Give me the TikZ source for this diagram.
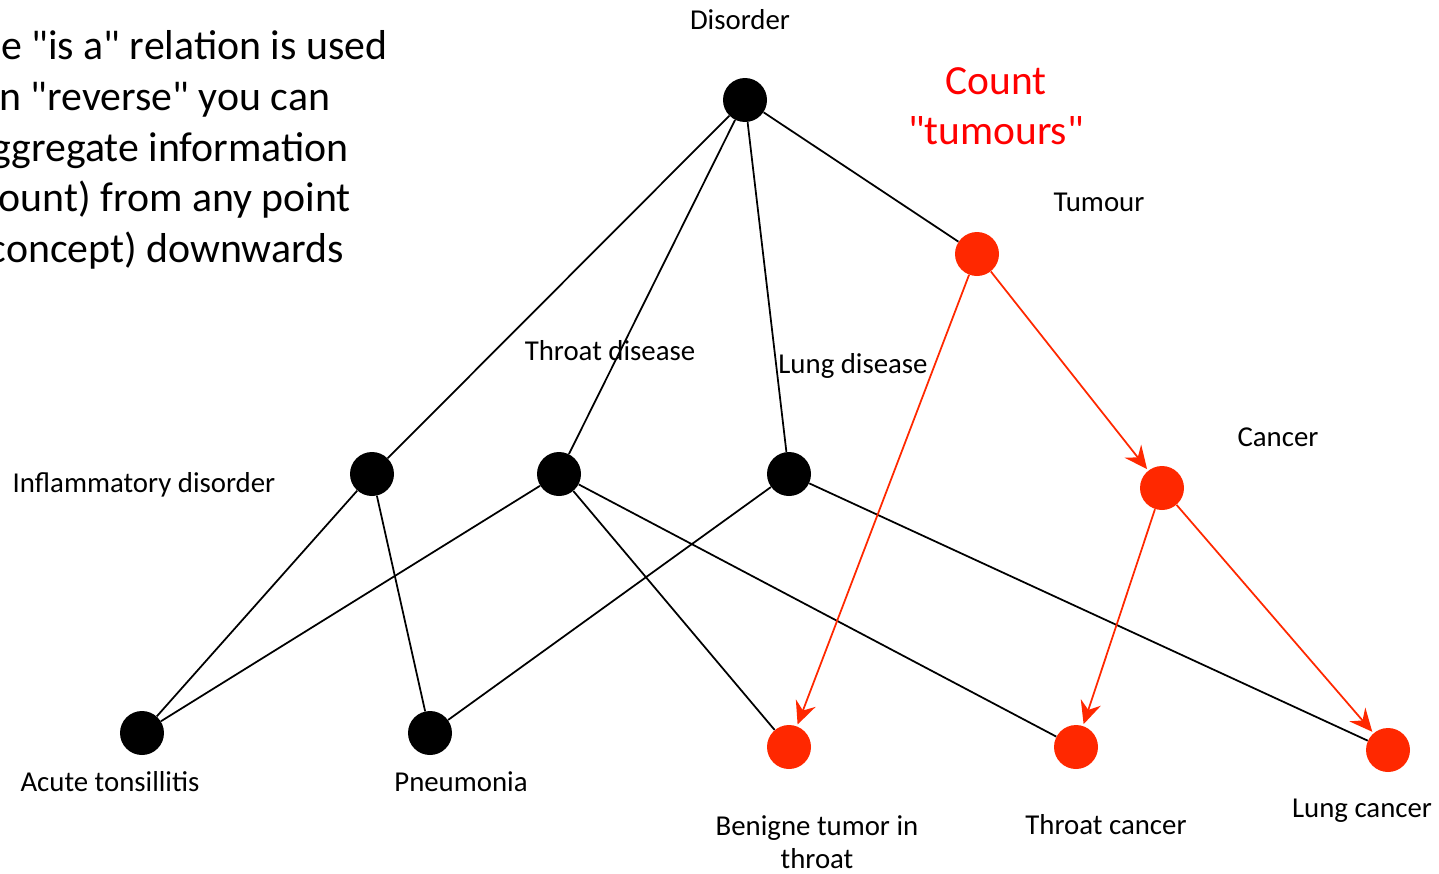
\documentclass[tikz,border=0pt]{standalone}
\usepackage{fontspec}
\setmainfont{Carlito}
\usetikzlibrary{arrows.meta}
\definecolor{tumourred}{RGB}{255,40,0}
\definecolor{countred}{RGB}{255,0,0}
\newcommand{\qq}{\textquotedbl}

\begin{document}
\begin{tikzpicture}[x=0.02cm,y=-0.02cm,
  concept/.style={circle,fill=black,minimum size=0.88cm,inner sep=0pt},
  tumourconcept/.style={concept,fill=tumourred},
  lbl/.style={font=\fontsize{16.4}{18.8}\selectfont,inner sep=0pt},
  isa/.style={black,line width=1pt},
  countarrow/.style={tumourred,line width=1pt,shorten >=1pt,
    -{Stealth[length=13pt,width=12pt,inset=4.5pt]}}]
\useasboundingbox (0,0) rectangle (1439,873);

% note on the left, cut by the page edge
\begin{scope}
\clip (0,0) rectangle (1439,873);
\node[align=center,font=\fontsize{23.8}{28.8}\selectfont,inner sep=0pt] (note) at (160,150)
  {If the \qq is a\qq{} relation is used\\in \qq reverse\qq{} you can\\aggregate information\\(count) from any point\\(concept) downwards};
\end{scope}

\node[align=center,text=countred,font=\fontsize{23.6}{28.4}\selectfont,inner sep=0pt] (counttxt) at (996,106) {Count\\\qq tumours\qq};

% concepts
\node[concept] (disorder) at (745,100) {};
\node[tumourconcept] (tumour) at (977,254) {};
\node[concept] (inflam) at (372,474) {};
\node[concept] (throat) at (559,474) {};
\node[concept] (lung) at (789,474) {};
\node[tumourconcept] (cancer) at (1162,488) {};
\node[concept] (tonsil) at (142,733) {};
\node[concept] (pneu) at (430,733) {};
\node[tumourconcept] (benigne) at (789,747) {};
\node[tumourconcept] (throatca) at (1076,747) {};
\node[tumourconcept] (lungca) at (1388,750) {};

% labels
\node[lbl] (disorderlbl) at (740,20) {Disorder};
\node[lbl] (tumourlbl) at (1099,202) {Tumour};
\node[lbl] (throatlbl) at (610,351) {Throat disease};
\node[lbl] (lunglbl) at (853,366) {Lung disease};
\node[lbl] (inflamlbl) at (144,485) {Inflammatory disorder};
\node[lbl] (cancerlbl) at (1278,437) {Cancer};
\node[lbl] (tonsillbl) at (110,782) {Acute tonsillitis};
\node[lbl] (pneulbl) at (461,782) {Pneumonia};
\node[lbl,align=center] (benignelbl) at (817,842) {Benigne tumor in\\throat};
\node[lbl] (throatcalbl) at (1106,825) {Throat cancer};
\node[lbl] (lungcalbl) at (1362,811) {Lung cancer};

% is a
\draw[isa] (disorder) -- (inflam);
\draw[isa] (disorder) -- (throat);
\draw[isa] (disorder) -- (lung);
\draw[isa] (disorder) -- (tumour);
\draw[isa] (inflam) -- (tonsil);
\draw[isa] (inflam) -- (pneu);
\draw[isa] (throat) -- (tonsil);
\draw[isa] (throat) -- (benigne);
\draw[isa] (throat) -- (throatca);
\draw[isa] (lung) -- (pneu);
\draw[isa] (lung) -- (lungca);

% counting downwards
\draw[countarrow] (tumour) -- (benigne);
\draw[countarrow] (tumour) -- (cancer);
\draw[countarrow] (cancer) -- (throatca);
\draw[countarrow] (cancer) -- (lungca);
\end{tikzpicture}
\end{document}
